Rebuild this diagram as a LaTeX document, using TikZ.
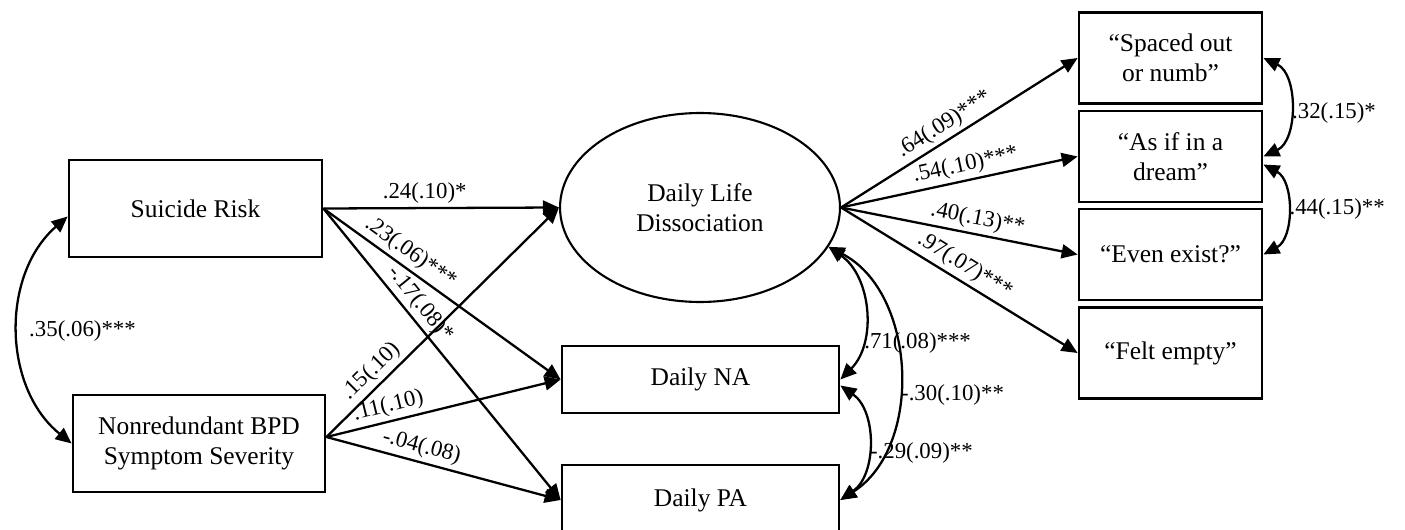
\documentclass[tikz,border=0pt]{standalone}
\usepackage{fontspec}
\setmainfont{Liberation Serif}
\usetikzlibrary{arrows.meta, shapes.geometric}
\newcommand{\boxfont}{\fontsize{14.5}{17}\selectfont}
\newcommand{\coeffont}{\fontsize{13}{15}\selectfont}

\begin{document}
\begin{tikzpicture}[x=0.02cm, y=-0.02cm,
  obs/.style={draw, line width=1.6pt, inner sep=2pt, align=center, font=\boxfont},
  ind/.style={obs, minimum width=3.66cm, minimum height=1.82cm},
  lat/.style={draw, ellipse, line width=1.2pt, inner sep=0pt, minimum width=5.6cm,
    minimum height=3.78cm, align=center, font=\boxfont},
  reg/.style={-{Triangle[length=0.32cm, width=0.28cm]}, line width=1.3pt},
  cov/.style={{Triangle[length=0.32cm, width=0.28cm]}-{Triangle[length=0.32cm, width=0.28cm]},
    line width=1.3pt},
  coef/.style={font=\coeffont, inner sep=2pt}]

\useasboundingbox (0,0) rectangle (1405,530);

% predictors
\node[obs, minimum width=5.06cm, minimum height=1.94cm] (sr) at (195.5,208.5) {Suicide Risk};
\node[obs, minimum width=5.04cm, minimum height=1.94cm] (bpd) at (199,443.5) {Nonredundant BPD\\Symptom Severity};
\coordinate (bpdout) at ([yshift=0.13cm]bpd.east);

% outcomes
\node[lat] (dld) at (700,207.5) {Daily Life\\Dissociation};
\node[obs, minimum width=5.54cm, minimum height=1.34cm] (na) at (700.5,379.5) {Daily NA};
\node[obs, minimum width=5.54cm, minimum height=1.4cm] (pa) at (700.5,500) {Daily PA};

% items
\node[ind] (spaced) at (1170.5,58) {“Spaced out\\or numb”};
\node[ind] (dream) at (1170.5,156.5) {“As if in a\\dream”};
\node[ind] (exist) at (1170.5,254.5) {“Even exist?”};
\node[ind] (empty) at (1170.5,353) {“Felt empty”};

% regressions
\draw[reg] (sr.east) -- node[coef, above, pos=0.43] {.24(.10)*} (dld.west);
\draw[reg] (sr.east) -- node[coef, sloped, above, pos=0.33] {.23(.06)***} (na.west);
\draw[reg] (sr.east) -- node[coef, sloped, above, pos=0.36] {-.17(.08)*} (pa.west);
\draw[reg] (bpdout) -- node[coef, sloped, above, pos=0.24] {.15(.10)} (dld.west);
\draw[reg] (bpdout) -- node[coef, sloped, above, pos=0.28] {.11(.10)} (na.west);
\draw[reg] (bpdout) -- node[coef, sloped, above, pos=0.39] {-.04(.08)} (pa.west);

% loadings
\draw[reg] (dld.east) -- node[coef, sloped, above, pos=0.47] {.64(.09)***} (spaced.west);
\draw[reg] (dld.east) -- node[coef, sloped, above, pos=0.54] {.54(.10)***} (dream.west);
\draw[reg] (dld.east) -- node[coef, sloped, above, pos=0.565] {.40(.13)**} (exist.west);
\draw[reg] (dld.east) -- node[coef, sloped, above, pos=0.49] {.97(.07)***} (empty.west);

% covariances
\draw[cov] ([yshift=-0.16cm]sr.west) to[bend right=50]
  node[coef, anchor=west, xshift=0.12cm] {.35(.06)***} (bpd.west);
\draw[cov] (dld.-17) to[bend left=50]
  node[coef, pos=0.72, anchor=west, inner sep=1pt] {.71(.08)***} (na.east);
\draw[cov] (dld.-17) to[bend left=60]
  node[coef, pos=0.58, anchor=west, inner sep=1pt] {-.30(.10)**} (pa.east);
\draw[cov] ([yshift=-0.12cm]na.east) to[bend left=55]
  node[coef, pos=0.58, anchor=west, inner sep=1pt] {-.29(.09)**} (pa.east);
\draw[cov] (spaced.east) to[bend left=65]
  node[coef, pos=0.55, anchor=west, inner sep=1pt] {.32(.15)*} (dream.east);
\draw[cov] ([yshift=-0.16cm]dream.east) to[bend left=62]
  node[coef, pos=0.5, anchor=west, inner sep=1pt] {.44(.15)**} (exist.east);
\end{tikzpicture}
\end{document}
